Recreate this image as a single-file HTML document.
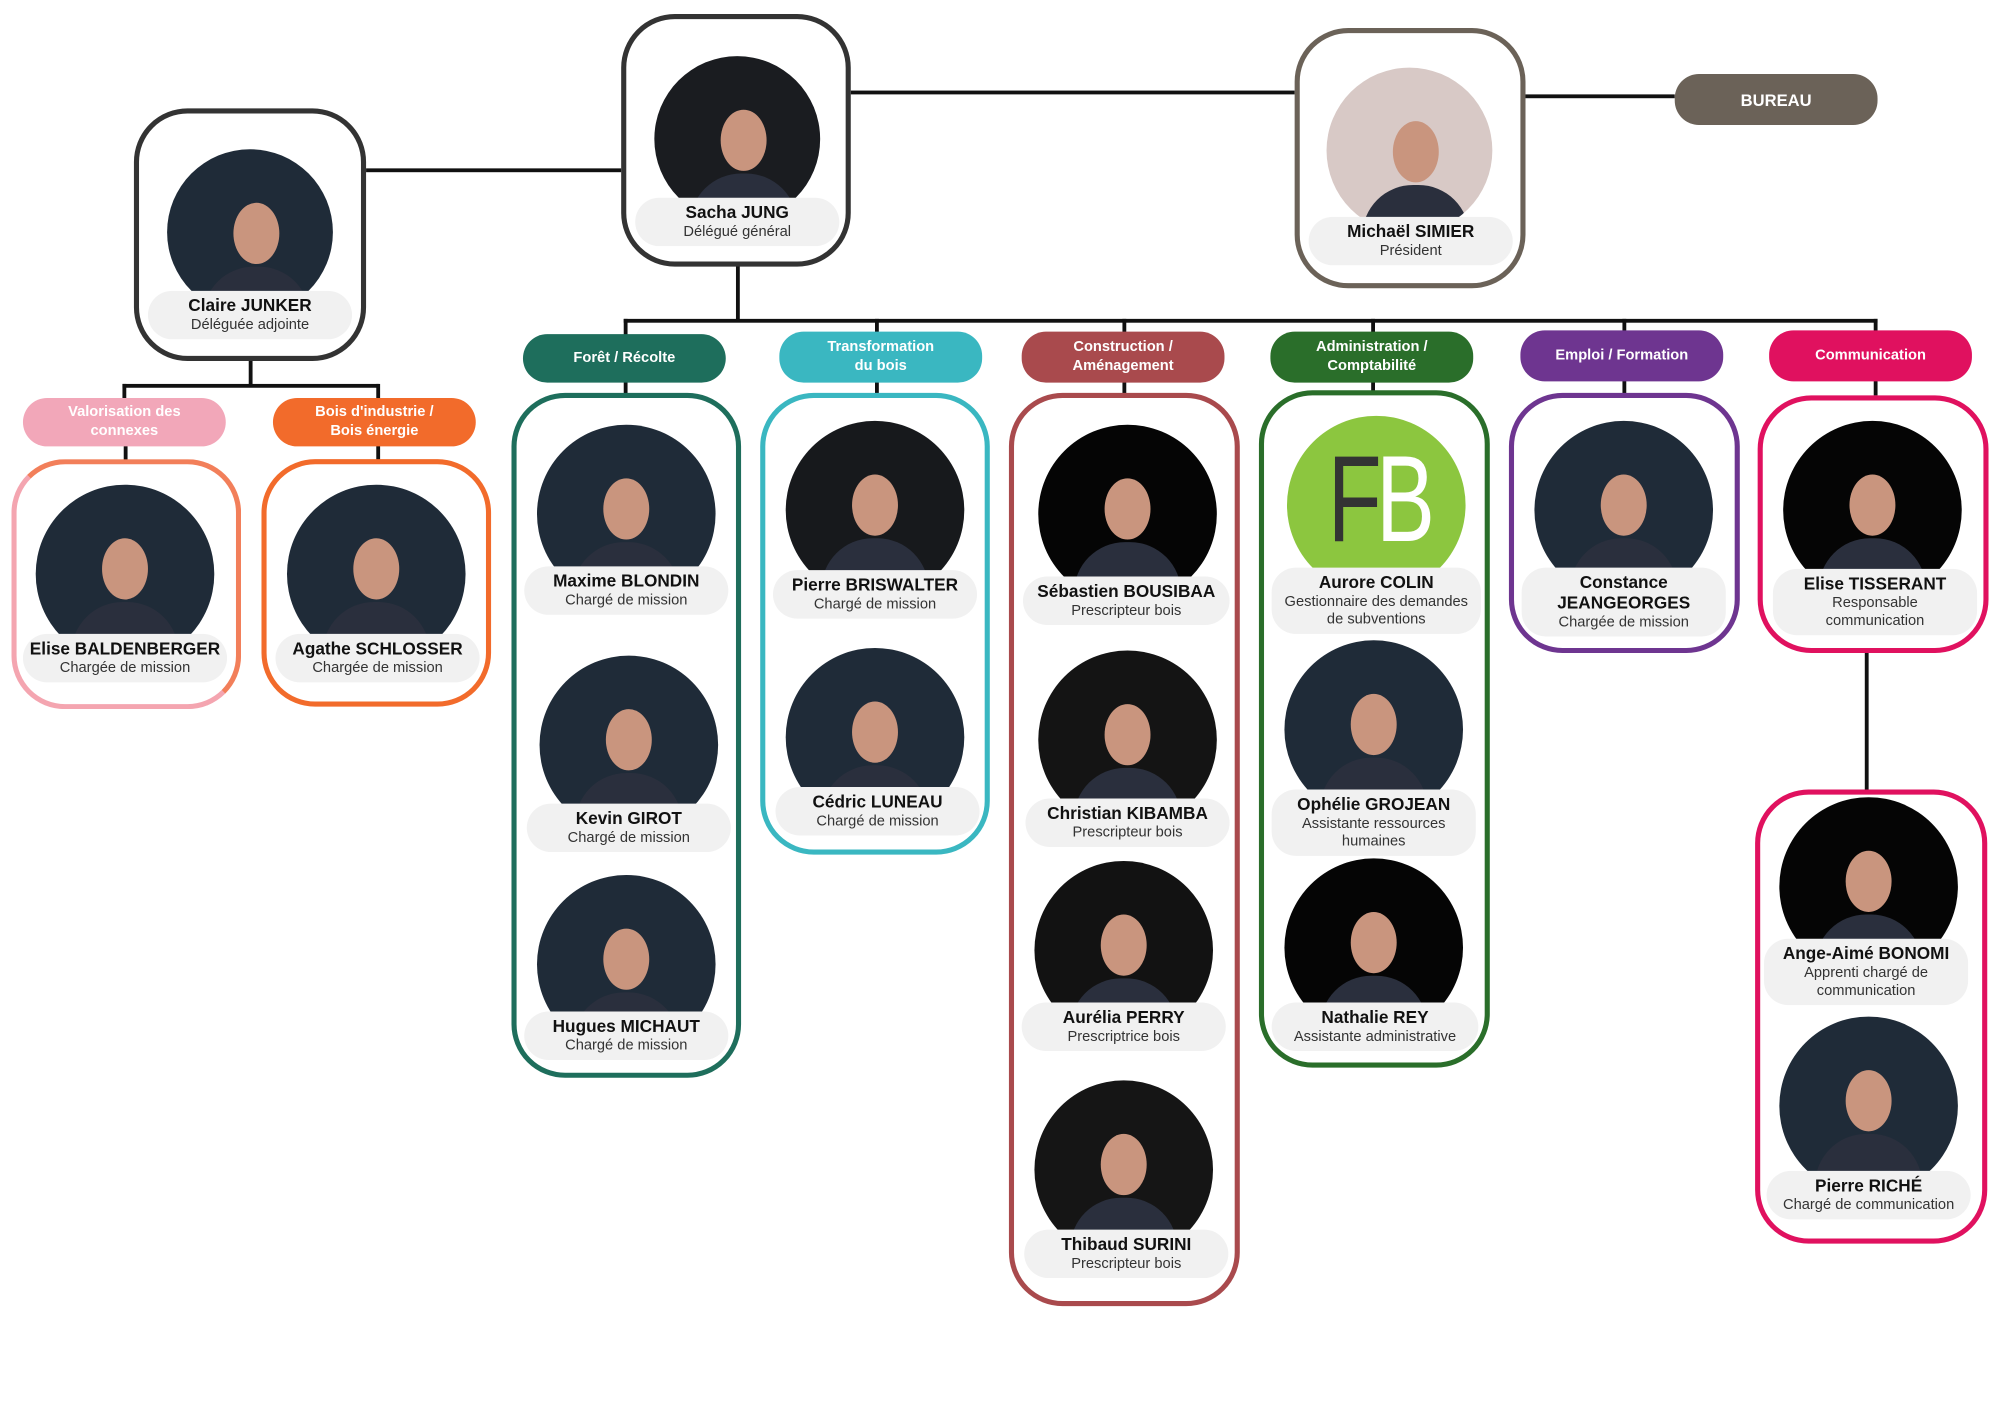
<!DOCTYPE html>
<html><head><meta charset="utf-8">
<style>
html,body{margin:0;padding:0;background:#fff;}
body{width:2000px;height:1414px;overflow:hidden;position:relative;}
#w{position:absolute;left:0;top:0;width:1568px;height:1109px;transform:scale(1.27551);transform-origin:0 0;font-family:"Liberation Sans",sans-serif;}
#w div{position:absolute;box-sizing:border-box;}
.bx{border:4px solid #333;border-radius:42px;background:#fff;}
.ln{background:#111;}
.pl{border-radius:19px;color:#fff;font-weight:bold;font-size:11.5px;text-align:center;display:flex;align-items:center;justify-content:center;line-height:15px;width:159px;height:38px;}
.ph{width:140px;height:140px;border-radius:50%;background:#1f2b38;overflow:hidden;}
.ph::before{content:"";position:absolute;left:52px;top:42px;width:36px;height:48px;border-radius:50%;background:#c9957e;}
.ph::after{content:"";position:absolute;left:28px;top:92px;width:84px;height:70px;border-radius:40px 40px 0 0;background:#2a2f3d;}
.bk{background:#050505;}
.lb{width:160px;background:#f1f1f1;border-radius:19px;text-align:center;font-size:11.5px;color:#333;line-height:14px;padding:4px 2px;}
.lb b{font-size:13.5px;color:#111;line-height:16px;}
</style></head><body><div id="w">

<div class="ln" style="left:287px;top:132px;width:200px;height:3px"></div>
<div class="ln" style="left:667px;top:71px;width:348px;height:3px"></div>
<div class="ln" style="left:1196px;top:74px;width:117px;height:3px"></div>
<div class="ln" style="left:577px;top:208px;width:3px;height:44px"></div>
<div class="ln" style="left:489px;top:250px;width:983px;height:3px"></div>
<div class="ln" style="left:489px;top:250px;width:3px;height:13px"></div>
<div class="ln" style="left:686px;top:250px;width:3px;height:13px"></div>
<div class="ln" style="left:880px;top:250px;width:3px;height:13px"></div>
<div class="ln" style="left:1075px;top:250px;width:3px;height:13px"></div>
<div class="ln" style="left:1272px;top:250px;width:3px;height:13px"></div>
<div class="ln" style="left:1469px;top:250px;width:3px;height:13px"></div>
<div class="ln" style="left:195px;top:282px;width:3px;height:20px"></div>
<div class="ln" style="left:96px;top:301px;width:201px;height:3px"></div>
<div class="ln" style="left:96px;top:301px;width:3px;height:12px"></div>
<div class="ln" style="left:295px;top:301px;width:3px;height:12px"></div>
<div class="ln" style="left:97px;top:349px;width:3px;height:12px"></div>
<div class="ln" style="left:295px;top:349px;width:3px;height:12px"></div>
<div class="ln" style="left:489px;top:297px;width:3px;height:12px"></div>
<div class="ln" style="left:686px;top:297px;width:3px;height:12px"></div>
<div class="ln" style="left:880px;top:297px;width:3px;height:12px"></div>
<div class="ln" style="left:1075px;top:297px;width:3px;height:10px"></div>
<div class="ln" style="left:1272px;top:297px;width:3px;height:12px"></div>
<div class="ln" style="left:1469px;top:297px;width:3px;height:13px"></div>
<div class="ln" style="left:1462px;top:510px;width:3px;height:110px"></div>

<div class="bx" style="left:105px;top:85px;width:182px;height:198px"></div>
<div class="bx" style="left:487px;top:11px;width:180px;height:198px"></div>
<div class="bx" style="left:1015px;top:22px;width:181px;height:204px;border-color:#6b6258"></div>
<div class="pl" style="left:1313px;top:58px;height:40px;background:#6b6258;font-size:13px">BUREAU</div>

<div class="pl" style="left:18px;top:312px;background:#f2a7b9">Valorisation des<br>connexes</div>
<div class="pl" style="left:214px;top:312px;background:#f26b2b">Bois d'industrie /<br>Bois énergie</div>
<div class="pl" style="left:410px;top:262px;background:#1e6e5c">Forêt / Récolte</div>
<div class="pl" style="left:611px;top:260px;height:40px;background:#3ab7c1">Transformation<br>du bois</div>
<div class="pl" style="left:801px;top:260px;height:40px;background:#a94a4d">Construction /<br>Aménagement</div>
<div class="pl" style="left:996px;top:260px;height:40px;background:#2a6e2a">Administration /<br>Comptabilité</div>
<div class="pl" style="left:1192px;top:259px;height:40px;background:#6e3590">Emploi / Formation</div>
<div class="pl" style="left:1387px;top:259px;height:40px;background:#e0115f">Communication</div>

<div class="bx" style="left:9px;top:360px;width:180px;height:196px;border-color:#f27f5a;border-left-color:#f4a5b0;border-bottom-color:#f4a5b0"></div>
<div class="bx" style="left:205px;top:360px;width:180px;height:194px;border-color:#f26b2b"></div>
<div class="bx" style="left:401px;top:308px;width:180px;height:537px;border-color:#1e6e5c"></div>
<div class="bx" style="left:596px;top:308px;width:180px;height:362px;border-color:#3ab7c1"></div>
<div class="bx" style="left:791px;top:308px;width:181px;height:716px;border-color:#a94a4d"></div>
<div class="bx" style="left:987px;top:306px;width:181px;height:531px;border-color:#2a6e2a"></div>
<div class="bx" style="left:1183px;top:308px;width:181px;height:204px;border-color:#6e3590"></div>
<div class="bx" style="left:1378px;top:310px;width:181px;height:202px;border-color:#e0115f"></div>
<div class="bx" style="left:1376px;top:619px;width:182px;height:356px;border-color:#e0115f"></div>

<div class="ph" style="left:131px;top:117px;width:130px;height:130px"></div>
<div class="ph" style="left:513px;top:44px;width:130px;height:130px;background:#1a1c20"></div>
<div class="ph" style="left:1040px;top:53px;width:130px;height:130px;background:#d8c9c6"></div>
<div class="ph" style="left:28px;top:380px"></div>
<div class="ph" style="left:225px;top:380px"></div>
<div class="ph" style="left:421px;top:333px"></div>
<div class="ph" style="left:423px;top:514px"></div>
<div class="ph" style="left:421px;top:686px"></div>
<div class="ph" style="left:616px;top:330px;background:#17191c"></div>
<div class="ph" style="left:616px;top:508px"></div>
<div class="ph bk" style="left:814px;top:333px"></div>
<div class="ph" style="left:814px;top:510px;background:#141414"></div>
<div class="ph" style="left:811px;top:675px;background:#121212"></div>
<div class="ph" style="left:811px;top:847px;background:#151515"></div>
<div style="left:1009px;top:326px;width:140px;height:140px;border-radius:50%;background:#8cc63f;overflow:hidden">
  <div style="left:32px;top:18px;width:140px;height:96px;font-size:96px;line-height:96px;letter-spacing:-6px;white-space:nowrap;transform:scaleX(0.72);transform-origin:0 0"><span style="color:#333">F</span><span style="color:#fff">B</span></div>
</div>
<div class="ph" style="left:1007px;top:502px"></div>
<div class="ph bk" style="left:1007px;top:673px"></div>
<div class="ph" style="left:1203px;top:330px"></div>
<div class="ph bk" style="left:1398px;top:330px"></div>
<div class="ph bk" style="left:1395px;top:625px"></div>
<div class="ph" style="left:1395px;top:797px"></div>

<div class="lb" style="left:116px;top:228px"><b>Claire JUNKER</b><br>Déléguée adjointe</div>
<div class="lb" style="left:498px;top:155px"><b>Sacha JUNG</b><br>Délégué général</div>
<div class="lb" style="left:1026px;top:170px"><b>Michaël SIMIER</b><br>Président</div>
<div class="lb" style="left:18px;top:497px"><b>Elise BALDENBERGER</b><br>Chargée de mission</div>
<div class="lb" style="left:216px;top:497px"><b>Agathe SCHLOSSER</b><br>Chargée de mission</div>
<div class="lb" style="left:411px;top:444px"><b>Maxime BLONDIN</b><br>Chargé de mission</div>
<div class="lb" style="left:413px;top:630px"><b>Kevin GIROT</b><br>Chargé de mission</div>
<div class="lb" style="left:411px;top:793px"><b>Hugues MICHAUT</b><br>Chargé de mission</div>
<div class="lb" style="left:606px;top:447px"><b>Pierre BRISWALTER</b><br>Chargé de mission</div>
<div class="lb" style="left:608px;top:617px"><b>Cédric LUNEAU</b><br>Chargé de mission</div>
<div class="lb" style="left:802px;top:452px;width:162px"><b>Sébastien BOUSIBAA</b><br>Prescripteur bois</div>
<div class="lb" style="left:804px;top:626px"><b>Christian KIBAMBA</b><br>Prescripteur bois</div>
<div class="lb" style="left:801px;top:786px"><b>Aurélia PERRY</b><br>Prescriptrice bois</div>
<div class="lb" style="left:803px;top:964px"><b>Thibaud SURINI</b><br>Prescripteur bois</div>
<div class="lb" style="left:997px;top:445px;width:164px"><b>Aurore COLIN</b><br>Gestionnaire des demandes<br>de subventions</div>
<div class="lb" style="left:997px;top:619px"><b>Ophélie GROJEAN</b><br>Assistante ressources<br>humaines</div>
<div class="lb" style="left:997px;top:786px;width:162px"><b>Nathalie REY</b><br>Assistante administrative</div>
<div class="lb" style="left:1193px;top:445px"><b>Constance<br>JEANGEORGES</b><br>Chargée de mission</div>
<div class="lb" style="left:1390px;top:446px"><b>Elise TISSERANT</b><br>Responsable<br>communication</div>
<div class="lb" style="left:1383px;top:736px"><b>Ange-Aimé BONOMI</b><br>Apprenti chargé de<br>communication</div>
<div class="lb" style="left:1385px;top:918px"><b>Pierre RICHÉ</b><br>Chargé de communication</div>

</div></body></html>
